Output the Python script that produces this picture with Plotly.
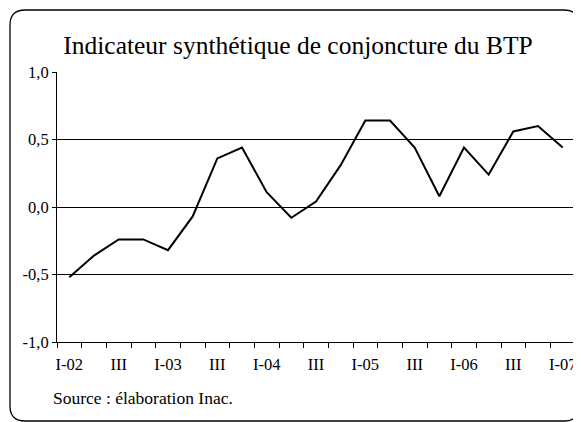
import plotly.graph_objects as go

quarters = [
    "I-02", "II-02", "III-02", "IV-02",
    "I-03", "II-03", "III-03", "IV-03",
    "I-04", "II-04", "III-04", "IV-04",
    "I-05", "II-05", "III-05", "IV-05",
    "I-06", "II-06", "III-06", "IV-06",
    "I-07",
]
values = [
    -0.52, -0.36, -0.24, -0.24,
    -0.32, -0.07, 0.36, 0.44,
    0.11, -0.08, 0.04, 0.31,
    0.64, 0.64, 0.44, 0.08,
    0.44, 0.24, 0.56, 0.60,
    0.44,
]
x_tick_text = [
    "I-02", "", "III", "",
    "I-03", "", "III", "",
    "I-04", "", "III", "",
    "I-05", "", "III", "",
    "I-06", "", "III", "",
    "I-07",
]
y_tick_vals = [-1.0, -0.5, 0.0, 0.5, 1.0]
y_tick_text = ["-1,0", "-0,5", "0,0", "0,5", "1,0"]

FONT = "Liberation Serif"
OFF = 8  # page body margin in the browser
W, H = 581 - OFF, 422 - OFF
# plot area in page pixels: x 57..575, y 72..342
ML, MT = 57 - OFF, 72 - OFF
MR = W - (575 - OFF)
MB = H - (342 - OFF)
PW, PH = W - ML - MR, H - MT - MB

def px_x(p):
    return (p - OFF - ML) / PW

def px_y(p):
    return (H - MB - (p - OFF)) / PH

idx = list(range(len(quarters)))
boundaries = [i - 0.5 for i in range(len(quarters) + 1)]

fig = go.Figure()
fig.add_trace(go.Scatter(
    x=idx, y=values, mode="lines", text=quarters,
    line=dict(color="black", width=2),
    hoverinfo="skip", showlegend=False,
))

# rounded frame around the whole chart (page pixels)
x0, x1, y0, y1, r = 10, 579, 10, 421, 15
path = (
    f"M {px_x(x0 + r)} {px_y(y0)} L {px_x(x1 - r)} {px_y(y0)} "
    f"Q {px_x(x1)} {px_y(y0)} {px_x(x1)} {px_y(y0 + r)} "
    f"L {px_x(x1)} {px_y(y1 - r)} "
    f"Q {px_x(x1)} {px_y(y1)} {px_x(x1 - r)} {px_y(y1)} "
    f"L {px_x(x0 + r)} {px_y(y1)} "
    f"Q {px_x(x0)} {px_y(y1)} {px_x(x0)} {px_y(y1 - r)} "
    f"L {px_x(x0)} {px_y(y0 + r)} "
    f"Q {px_x(x0)} {px_y(y0)} {px_x(x0 + r)} {px_y(y0)} Z"
)
fig.add_shape(type="path", path=path, xref="paper", yref="paper",
              line=dict(color="black", width=1.3), layer="above")

fig.update_layout(
    width=W, height=H,
    margin=dict(l=ML, r=MR, t=MT, b=MB, autoexpand=False),
    paper_bgcolor="white", plot_bgcolor="white",
    font=dict(family=FONT, size=16, color="black"),
    title=dict(text="Indicateur synthétique de conjoncture du BTP",
               x=px_x(298), xanchor="center", xref="paper",
               y=1 - (45 - OFF) / H, yanchor="middle",
               font=dict(family=FONT, size=25.5, color="black")),
    xaxis=dict(
        range=[boundaries[0], boundaries[-1]],
        tickmode="array", tickvals=idx, ticktext=x_tick_text,
        ticks="outside", ticklen=7, tickcolor="white", tickwidth=1,
        tickangle=0,
        minor=dict(tickmode="array", tickvals=boundaries, ticks="outside",
                   ticklen=5, tickcolor="black", tickwidth=1.2, showgrid=False),
        showline=True, linecolor="black", linewidth=1,
        showgrid=False, zeroline=False, fixedrange=True,
        tickfont=dict(family=FONT, size=16.5),
    ),
    yaxis=dict(
        range=[-1.0, 1.0], tickmode="array", tickvals=y_tick_vals, ticktext=y_tick_text,
        ticks="outside", ticklen=4, tickcolor="black",
        showline=True, linecolor="black", linewidth=1,
        showgrid=True, gridcolor="black", gridwidth=1,
        zeroline=False, fixedrange=True,
        tickfont=dict(family=FONT, size=16.5),
    ),
    annotations=[dict(
        text="Source : élaboration Inac.", xref="paper", yref="paper",
        x=px_x(51), y=px_y(398), xanchor="left", yanchor="middle",
        showarrow=False, font=dict(family=FONT, size=17.5, color="black"),
    )],
)

fig.write_html("out.html")
